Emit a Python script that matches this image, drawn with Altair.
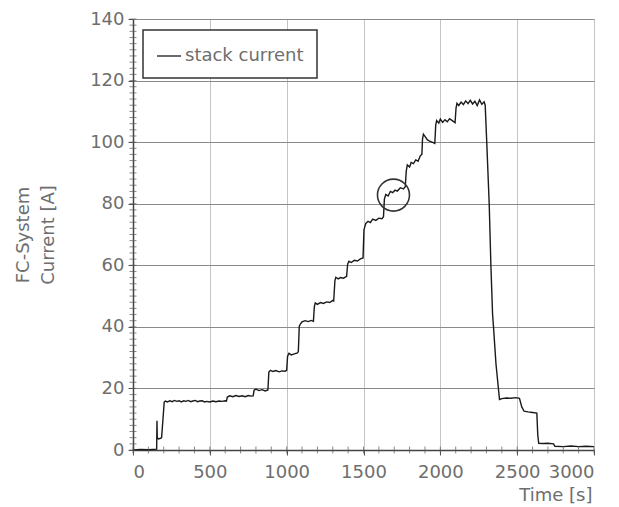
import altair as alt
import pandas as pd

# ---- data ----
time_s = [0, 50, 100, 154, 156, 158, 165, 180, 186, 195, 203, 210, 225, 240, 255, 270, 285, 300,
          315, 330, 345, 360, 375, 390, 405, 420, 435, 450, 465, 480, 500, 520, 540, 560, 580, 600, 608,
          614, 630, 650, 670, 690, 710, 730, 750, 770, 782,
          788, 800, 820, 840, 860, 878,
          884, 895, 910, 930, 950, 970, 990, 1000,
          1006, 1015, 1030, 1050, 1070, 1076,
          1082, 1090, 1100, 1120, 1140, 1160, 1174,
          1180, 1186, 1200, 1220, 1240, 1260, 1280, 1300, 1306,
          1314, 1320, 1335, 1350, 1370, 1390,
          1397, 1405, 1420, 1440, 1460, 1480, 1497,
          1503, 1515, 1530, 1545, 1560, 1580, 1600, 1620, 1630,
          1636, 1645, 1660, 1675, 1690, 1705, 1720, 1740, 1760, 1772,
          1778, 1785, 1800, 1810, 1825, 1840, 1855, 1870, 1880,
          1884, 1890, 1900, 1915, 1930, 1950, 1964,
          1970, 1976, 1990, 2000, 2015, 2030, 2045, 2060, 2080, 2096,
          2102, 2108, 2120, 2135, 2150, 2165, 2180, 2195, 2210, 2225, 2240, 2255, 2270, 2285, 2292,
          2302, 2318, 2329, 2340, 2346, 2362, 2385,
          2400, 2430, 2460, 2490, 2515, 2530, 2545, 2570, 2600, 2628,
          2634, 2640, 2670, 2700, 2737, 2745, 2800, 2850, 2900, 2950, 3000]
current_a = [0, 0.2, 0.1, 0.3, 9.5, 4, 3.6, 3.8, 4, 10, 15.5, 15.9, 15.6, 16, 15.7, 16.1, 15.8, 16,
             15.6, 16, 15.8, 16.1, 15.7, 15.9, 16.1, 15.7, 15.9, 16, 15.6, 15.8, 15.6, 15.9, 15.7, 15.9, 15.8, 16, 15.9,
             17.2, 17.6, 17.3, 17.7, 17.4, 17.6, 17.3, 17.7, 17.5, 17.6,
             19.4, 19.8, 19.3, 19.6, 19.2, 19.5,
             25.3, 25.9, 25.5, 25.8, 25.4, 25.7, 25.6, 25.9,
             30.5, 31.4, 30.9, 31.2, 31.5, 32,
             40.2, 41, 41.6, 42, 41.7, 42.1, 41.8,
             46.5, 47.8, 47.3, 47.9, 47.6, 48.1, 47.9, 48.6, 48.4,
             55, 56.1, 55.6, 56, 55.8, 56.4,
             60.4, 61.3, 60.9, 61.6, 61.4, 62.1, 62.4,
             71.5, 73.6, 74.3, 73.9, 75, 74.6, 75.3, 75.1, 75.8,
             81.5, 83, 82.5, 84, 83.6, 84.4, 84.1, 85.2, 84.8, 85.5,
             90.5, 92.6, 91.9, 93.4, 93, 94.2, 93.8, 95.6, 96,
             101, 102.6, 101.9, 100.8, 100.3, 99.9, 99.6,
             105.5, 107, 106.2, 107.5, 106.4, 107.3, 106.6, 107.6, 106.9, 106.3,
             111, 112.6, 111.9, 113, 112.2, 113.4, 112.5, 113.6, 112.4, 113.3, 111.9, 113.7, 112.3, 113.1, 112,
             100, 80, 60, 44, 40, 28, 16.4,
             16.7, 16.9, 16.8, 17, 16.8, 14, 12.6, 12.4, 12.2, 12,
             5, 2.2, 2.1, 2.2, 2, 1.2, 1.1, 1.3, 1.1, 1.2, 1.1]
series_name = "stack current"

circle_t = [1695]
circle_a = [82.8]

x_major = [0, 500, 1000, 1500, 2000, 2500, 3000]
y_major = [0, 20, 40, 60, 80, 100, 120, 140]
x_minor = list(range(0, 3001, 100))
y_minor = list(range(0, 141, 2))

df = pd.DataFrame({"t": time_s, "a": current_a, "series": series_name})
df_circle = pd.DataFrame({"t": circle_t, "a": circle_a})
df_xminor = pd.DataFrame({"t": x_minor})
df_yminor = pd.DataFrame({"a": y_minor})

W, H = 461, 431
FONT = "DejaVu Sans"
TXT = "#6e6e6e"

xscale = alt.Scale(domain=[0, 3000], nice=False, zero=False)
yscale = alt.Scale(domain=[0, 140], nice=False, zero=False)

line = alt.Chart(df).mark_line(strokeWidth=1.4, interpolate="linear").encode(
    x=alt.X("t:Q", scale=xscale,
            axis=alt.Axis(values=x_major, title="Time [s]", format="d",
                          gridColor="#c4c4c4", titleAnchor="end", titleAlign="right",
                          titleX=W - 2, titleY=36, titleBaseline="top",
                          labelPadding=8)),
    y=alt.Y("a:Q", scale=yscale,
            axis=alt.Axis(values=y_major, title=["FC-System", "Current [A]"], format="d",
                          gridColor="#8a8a8a", titleAngle=270, titleX=-110, titleY=H / 2,
                          titleAlign="center", titleBaseline="middle", titleLineHeight=25,
                          labelPadding=4)),
    color=alt.Color("series:N",
                    scale=alt.Scale(domain=[series_name], range=["#1a1a1a"]),
                    legend=alt.Legend(title=None, orient="none", legendX=10, legendY=11,
                                      strokeColor="#333333", fillColor="white", padding=13,
                                      symbolType="stroke", symbolSize=576,
                                      symbolStrokeWidth=1.3, labelFontSize=18,
                                      labelColor=TXT, labelFont=FONT, labelOffset=3)),
)

circle = alt.Chart(df_circle).mark_point(shape="circle", filled=False, size=1024,
                                         stroke="#333333", strokeWidth=1.6, opacity=1).encode(
    x=alt.X("t:Q", scale=xscale), y=alt.Y("a:Q", scale=yscale))

yminor = alt.Chart(df_yminor).mark_tick(orient="horizontal", size=7, thickness=1,
                                        color="#555555").encode(
    y=alt.Y("a:Q", scale=yscale), x=alt.value(0))

xminor = alt.Chart(df_xminor).mark_tick(orient="vertical", size=7, thickness=1,
                                        color="#555555").encode(
    x=alt.X("t:Q", scale=xscale), y=alt.value(H))

chart = alt.layer(line, circle, yminor, xminor).properties(
    width=W, height=H,
    autosize=alt.AutoSizeParams(type="none"),
    padding={"left": 125, "top": 11, "right": 17, "bottom": 57},
).configure_view(stroke=None).configure_axis(
    domainColor="#444444", domainWidth=1.5, tickColor="#555555", tickSize=5,
    labelFont=FONT, labelFontSize=18, labelColor=TXT,
    titleFont=FONT, titleFontSize=18, titleColor=TXT, titleFontWeight="normal",
    gridWidth=1,
).configure_legend(strokeWidth=1.5)

chart.save("out.html", embed_options={"renderer": "svg", "actions": False})
